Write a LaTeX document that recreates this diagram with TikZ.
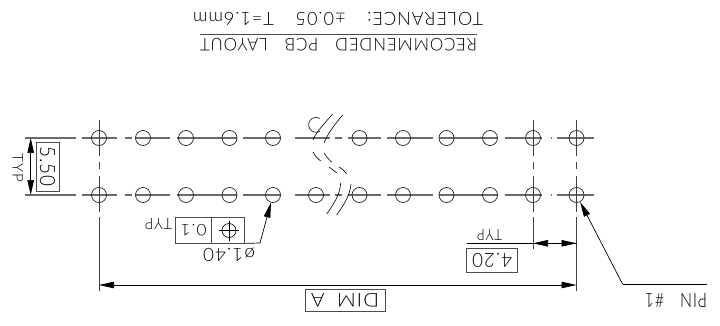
\documentclass[tikz,border=0pt]{standalone}
\usepackage{graphicx}
\usepackage{fontspec}
\setmainfont[LetterSpace=5,UprightFont=* Light]{Lato}
\usetikzlibrary{arrows.meta}
\newcommand{\fitt}[3]{\resizebox{#1pt}{#2pt}{#3}}
\tikzset{
  x=1pt,y=-1pt,
  centre/.style={draw=black!58,line width=1.05pt},
  vcentre/.style={draw=black!75,line width=0.9pt},
  hole/.style={circle,draw=black!85,line width=0.7pt,minimum size=15pt,inner sep=0pt},
  hidden/.style={circle,minimum size=15pt,inner sep=0pt},
  thin line/.style={draw=black,line width=0.7pt},
  dimtip/.style={-{Triangle[length=15pt,width=6.5pt]}},
  dimboth/.style={{Triangle[length=15pt,width=6.5pt]}-{Triangle[length=15pt,width=6.5pt]}},
  label/.style={inner sep=0pt,black},
  upside/.style={label,rotate=180},
  frame/.style={draw=black!70,line width=0.8pt,inner sep=0pt},
  breakline/.style={draw=black,line width=0.6pt},
}
\begin{document}
\begin{tikzpicture}
\useasboundingbox (0,0) rectangle (720,326);
\fill[white] (0,0) rectangle (720,326);
% centre lines
\foreach \y in {138,195}{
  \foreach \a/\b in {25/76,82/117,125/132,135/170,177/237,243/281,295/330,335/342,348/381,387/433,439/498,505/542,551/552,557/594}{
    \draw[centre] (\a,\y) -- (\b,\y);
  }
}
\foreach \x/\e in {99/291,533/249,576.5/291}{
  \draw[vcentre] (\x,120) -- (\x,156);
  \draw[vcentre] (\x,162) -- (\x,169);
  \draw[vcentre] (\x,176) -- (\x,212);
  \draw[vcentre] (\x,217) -- (\x,\e);
}
% holes
\foreach \n/\x in {1/99,2/143,3/186,4/229.5,5/273,7/359.5,8/403,9/446.5,10/490,11/533,12/576.5}{
  \node[hole] (t\n) at (\x,138) {};
}
\node[hidden] (t6) at (316,138) {};
\draw[draw=black!85,line width=0.7pt] (t6.60) arc[start angle=-60,end angle=-300,radius=7.5pt];
\foreach \n/\x in {1/99,2/143,3/186,4/229.5,5/273,6/316,7/359.5,8/403,9/446.5,10/490,11/533,12/576.5}{
  \node[hole] (b\n) at (\x,195) {};
}
% break marks
\draw[breakline] (332.7,114) .. controls (324,124) and (316,132) .. (313,140);
\draw[breakline] (342.7,115) .. controls (334,125) and (327,135) .. (324,143);
\draw[breakline] (313,152) .. controls (315,156) and (318,159) .. (320.7,161);
\draw[breakline] (324,153) .. controls (326,156) and (329,160) .. (331.7,162);
\draw[breakline] (329,167) -- (336.7,172.7);
\draw[breakline] (339,167) .. controls (342,168) and (344,171) .. (346.7,174);
\draw[breakline] (340.7,183) .. controls (340,195) and (333,205) .. (326.7,214);
\draw[breakline] (351,184) .. controls (350,196) and (343,206) .. (336.7,215);
% 5.50
\coordinate (d1) at (30.7,138);
\coordinate (d2) at (30.7,195);
\draw[thin line,dimboth] (d1) -- (d2);
\node[frame,rotate=-90,minimum width=49pt,minimum height=23pt] (b550) at (47.5,166.5) {\fitt{40}{15}{5.50}};
\node[label,rotate=-90] (typl) at (18,168) {\fitt{28}{10.5}{TYP}};
% tolerance frame
\node[frame,minimum width=68.6pt,minimum height=26pt] (tol) at (210,230) {};
\draw[draw=black!70,line width=0.8pt] (211.7,217) -- (211.7,243);
\node[upside] (tv) at (193.5,230.5) {\fitt{26}{11.5}{0.1}};
\node[circle,draw=black,line width=0.6pt,minimum size=14pt,inner sep=0pt] (pos) at (229,230.5) {};
\draw[black,line width=0.6pt] (219,230.5) -- (239,230.5);
\draw[black,line width=0.6pt] (229,220.5) -- (229,240.5);
\node[upside] (typs) at (158.5,224) {\fitt{27}{11}{TYP}};
\node[upside] (dia) at (229,255) {\fitt{52}{13}{ø1.40}};
\coordinate (lc) at (260,243);
\draw[thin line] (tol.south east) -- (lc);
\draw[thin line,dimtip] (lc) -- (b5);
% dim A
\coordinate (ea) at (99,285);
\coordinate (eb) at (576.5,285);
\draw[thin line,dimboth] (ea) -- (eb);
\node[frame,minimum width=80pt,minimum height=22pt] (dima) at (345,300) {};
\node[upside] (dimt) at (345,300) {\fitt{68}{13.5}{DIM\hspace{0.6em}A}};
% 4.20
\coordinate (f0) at (467,243.3);
\coordinate (f1) at (533,243.3);
\coordinate (f2) at (576.5,243.3);
\draw[thin line] (f0) -- (f1);
\draw[thin line] (f1) -- (f2);
\draw[thin line,dimtip] (550,243.3) -- (f1);
\draw[thin line,dimtip] (560,243.3) -- (f2);
\node[frame,minimum width=51pt,minimum height=24pt] (b420) at (492.2,260) {};
\node[upside] (t420) at (492.2,260) {\fitt{40}{14}{4.20}};
\node[upside] (typr) at (489.5,235) {\fitt{25}{11}{TYP}};
% pin 1
\coordinate (p1) at (622.7,284.3);
\coordinate (p2) at (706.7,284.3);
\draw[thin line] (p2) -- (p1);
\draw[thin line,dimtip] (p1) -- (b12);
\node[upside] (pin) at (676,300.5) {\fitt{62}{14}{PIN\hspace{1em}\#1}};
% title
\node[upside] (tole) at (338,18.5) {\fitt{290}{13}{TOLERANCE:\hspace{1.2em}±0.05\hspace{1.2em}T=1.6mm}};
\node[upside] (reco) at (338.5,45) {\fitt{277}{12.5}{RECOMMENDED\hspace{1em}PCB\hspace{1em}LAYOUT}};
\coordinate (r1) at (200,34.5);
\coordinate (r2) at (477,34.5);
\draw[draw=black!70,line width=1pt] (r1) -- (r2);
\end{tikzpicture}
\end{document}
